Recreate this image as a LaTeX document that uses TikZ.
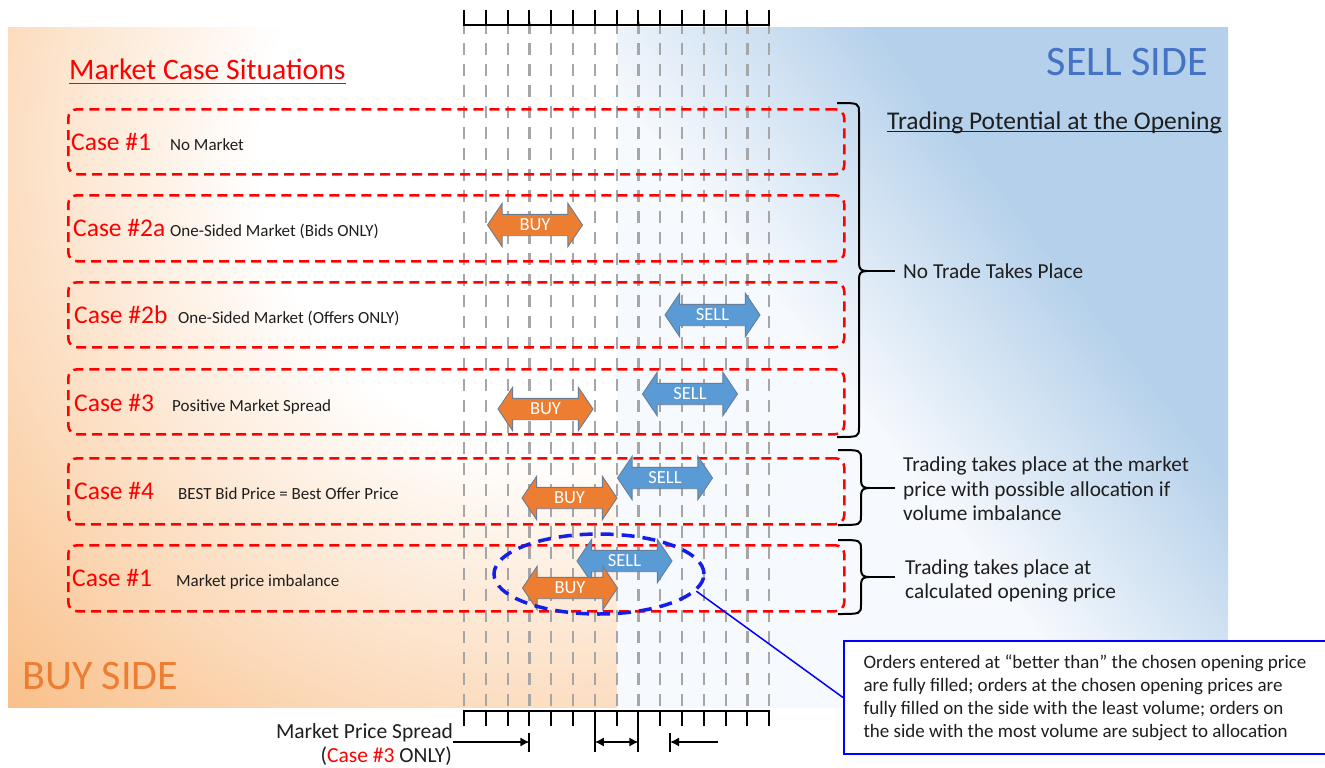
\documentclass[tikz,border=0pt]{standalone}
\usepackage{fontspec}
\setmainfont{Carlito}
\usetikzlibrary{shapes.arrows,shapes.geometric,arrows.meta}
\definecolor{caseRed}{RGB}{255,0,0}
\definecolor{buyOrange}{RGB}{237,125,49}
\definecolor{sellBlue}{RGB}{91,155,213}
\definecolor{arrowEdge}{RGB}{105,125,150}
\definecolor{gridGray}{RGB}{166,166,166}
\definecolor{ellBlue}{RGB}{20,30,230}
\definecolor{boxBlue}{RGB}{0,0,255}
\definecolor{orangeBG}{RGB}{249,190,134}
\definecolor{blueBG}{RGB}{180,208,234}
\definecolor{blueLow}{RGB}{246,249,253}
\definecolor{sellText}{RGB}{68,114,196}
\definecolor{txt}{RGB}{30,30,30}
\pgfdeclareradialshading{orangeglow}{\pgfpoint{0bp}{0bp}}{color(0bp)=(white); color(8.8bp)=(white); color(23.5bp)=(orangeBG); color(50bp)=(orangeBG)}
\pgfdeclareverticalshading{bluegrad}{100bp}{color(0bp)=(blueLow); color(46bp)=(blueLow); color(59.5bp)=(blueBG); color(100bp)=(blueBG)}
\begin{document}
\begin{tikzpicture}[x=1pt,y=-1pt,
  gridline/.style={gridGray, line width=2.2pt, dash pattern=on 12pt off 9pt},
  casebox/.style={draw=caseRed, line width=2.5pt, dash pattern=on 10pt off 6pt, rounded corners=9pt, minimum width=776pt, minimum height=65pt, anchor=north west, inner sep=0pt},
  caselabel/.style={anchor=base west, inner sep=0pt, text=caseRed, font=\fontsize{25.5}{28}\selectfont},
  desc/.style={anchor=base west, inner sep=0pt, text=txt, font=\fontsize{17}{20}\selectfont},
  arr/.style={double arrow, double arrow head extend=11pt, double arrow tip angle=112, minimum height=95pt, inner xsep=2pt, inner ysep=3pt, text height=12.5pt, text depth=2pt, line width=0.9pt, draw=arrowEdge, text=white, font=\fontsize{18.5}{18.5}\selectfont},
  buyarr/.style={arr, fill=buyOrange},
  sellarr/.style={arr, fill=sellBlue},
  bracket/.style={black, line width=2pt},
  ruler/.style={black, line width=2pt},
  righttext/.style={anchor=base west, inner sep=0pt, text=txt, font=\fontsize{21.3}{24.5}\selectfont},
  spread/.style={black, line width=1.3pt}
]
\useasboundingbox (0,0) rectangle (1325,768);
\fill[white] (0,0) rectangle (1325,768);
% backgrounds
\begin{scope}
  \clip (8,28) rectangle (617,707);
  \shade[shading=orangeglow] (560,150) circle [radius=850pt];
\end{scope}
\begin{scope}
  \clip (617,28) rectangle (1228,707);
  \shade[shading=bluegrad, shading angle=-52] (462.5,-92.5) rectangle (1382.5,827.5);
\end{scope}
% grid lines
\foreach \i in {0,...,14} {
  \draw[gridline] ({464+21.8*\i},22) -- ({464+21.8*\i},711);
}
% rulers
\draw[ruler] (464,25) -- (769.2,25);
\foreach \i in {0,...,14} { \draw[ruler] ({464+21.8*\i},10) -- ({464+21.8*\i},26); }
\draw[ruler] (464,711) -- (769.2,711);
\foreach \i in {0,...,14} { \draw[ruler] ({464+21.8*\i},710) -- ({464+21.8*\i},726); }
\draw[ruler] (594.8,711) -- (594.8,752);
\draw[ruler] (638.4,711) -- (638.4,752);
% case boxes
\node[casebox] (c1) at (67,108) {};
\node[casebox, minimum height=66pt] (c2a) at (67,194) {};
\node[casebox] (c2b) at (67,281) {};
\node[casebox] (c3) at (67,368) {};
\node[casebox, minimum height=66pt] (c4) at (67,457) {};
\node[casebox, minimum height=66pt] (c5) at (67,544) {};
% title
\node[anchor=base west, inner sep=0pt, text=caseRed, font=\fontsize{29.7}{32}\selectfont] (title) at (69,80) {Market Case Situations};
\draw[caseRed, line width=1.8pt] ([yshift=-3.5pt]title.base west) -- ([yshift=-3.5pt]title.base east);
% case labels
\node[caselabel] (l1) at (71,150) {Case \#1};
\node[desc] (d1) at (170,150) {No Market};
\node[caselabel] (l2a) at (73,236) {Case \#2a};
\node[desc] (d2a) at (170,236) {One-Sided Market (Bids ONLY)};
\node[caselabel] (l2b) at (74,323) {Case \#2b};
\node[desc] (d2b) at (178,323) {One-Sided Market (Offers ONLY)};
\node[caselabel] (l3) at (74,411) {Case \#3};
\node[desc] (d3) at (172,411) {Positive Market Spread};
\node[caselabel] (l4) at (74,499) {Case \#4};
\node[desc] (d4) at (178,499) {BEST Bid Price = Best Offer Price};
\node[caselabel] (l5) at (72,586) {Case \#1};
\node[desc] (d5) at (176,586) {Market price imbalance};
% arrows
\node[buyarr] (b2a) at (535,225) {BUY};
\node[sellarr] (s2b) at (712.5,315) {SELL};
\node[sellarr] (s3) at (690,394) {SELL};
\node[buyarr] (b3) at (545.5,409) {BUY};
\node[sellarr] (s4) at (665,478) {SELL};
\node[buyarr] (b4) at (569.5,498) {BUY};
\node[sellarr] (s5) at (624.5,561) {SELL};
\node[buyarr] (b5) at (570,588) {BUY};
% ellipse and callout
\node[ellipse, draw=ellBlue, line width=3.5pt, dash pattern=on 13pt off 8pt, minimum width=210pt, minimum height=80pt, inner sep=0pt] (ell) at (599,574) {};
\node[draw=boxBlue, line width=2pt, fill=white, anchor=north west, minimum width=482pt, minimum height=113pt, align=left, inner xsep=15pt, text=txt, font=\fontsize{19}{23}\selectfont] (callout) at (843,640) {Orders entered at “better than” the chosen opening price\\are fully filled; orders at the chosen opening prices are\\fully filled on the side with the least volume; orders on\\the side with the most volume are subject to allocation};
\draw[boxBlue, line width=1.5pt] (ell.-10) -- (callout.west);
% side labels
\node[anchor=base east, inner sep=0pt, text=sellText, font=\fontsize{42}{44}\selectfont] (sell) at (1208,75) {SELL SIDE};
\node[anchor=base west, inner sep=0pt, text=buyOrange, font=\fontsize{42}{44}\selectfont] (buy) at (22,689) {BUY SIDE};
% trading potential
\node[anchor=base west, inner sep=0pt, text=txt, font=\fontsize{25.5}{28}\selectfont] (tp) at (887,129) {Trading Potential at the Opening};
\draw[txt, line width=1.5pt] ([yshift=-2.5pt]tp.base west) -- ([yshift=-2.5pt]tp.base east);
% brackets
\draw[bracket] (837,103) .. controls (859,103) and (859,103) .. (859,113) -- (859,263) .. controls (859,269) and (861,271) .. (867,271) .. controls (861,271) and (859,273) .. (859,279) -- (859,427) .. controls (859,437) and (859,437) .. (837,437);
\draw[bracket] (867,271) -- (895,271);
\draw[bracket] (838,450) .. controls (861,450) and (861,450) .. (861,460) -- (861,480) .. controls (861,486) and (863,488) .. (869,488) .. controls (863,488) and (861,490) .. (861,496) -- (861,515) .. controls (861,525) and (861,525) .. (838,525);
\draw[bracket] (869,488) -- (895,488);
\draw[bracket] (838,540) .. controls (861,540) and (861,540) .. (861,550) -- (861,569) .. controls (861,575) and (863,577) .. (869,577) .. controls (863,577) and (861,579) .. (861,585) -- (861,604) .. controls (861,614) and (861,614) .. (838,614);
\draw[bracket] (869,577) -- (895,577);
\node[righttext] (nt) at (903,278) {No Trade Takes Place};
\node[righttext, anchor=west, align=left] (t4) at (903,489) {Trading takes place at the market\\price with possible allocation if\\volume imbalance};
\node[righttext, anchor=west, align=left] (t5) at (905,581) {Trading takes place at\\calculated opening price};
% market price spread
\node[anchor=base east, inner sep=0pt, text=txt, font=\fontsize{21.5}{24}\selectfont] (mps) at (453,738) {Market Price Spread};
\node[anchor=base east, inner sep=0pt, text=txt, font=\fontsize{21.5}{24}\selectfont] (mps2) at (452,762) {(\textcolor{caseRed}{Case \#3} ONLY)};
\coordinate (sa1) at (453,742);
\coordinate (sa2) at (529.4,742);
\coordinate (sb1) at (594.8,742);
\coordinate (sb2) at (638.4,742);
\coordinate (sc1) at (718,742);
\coordinate (sc2) at (670,742);
\draw[spread, -{Latex[length=9pt,width=9pt]}] (sa1) -- (sa2);
\draw[ruler] (529.4,733) -- (529.4,752);
\draw[spread, {Latex[length=9pt,width=9pt]}-{Latex[length=9pt,width=9pt]}] (sb1) -- (sb2);
\draw[spread, -{Latex[length=9pt,width=9pt]}] (sc1) -- (sc2);
\draw[ruler] (670,733) -- (670,752);
\end{tikzpicture}
\end{document}
